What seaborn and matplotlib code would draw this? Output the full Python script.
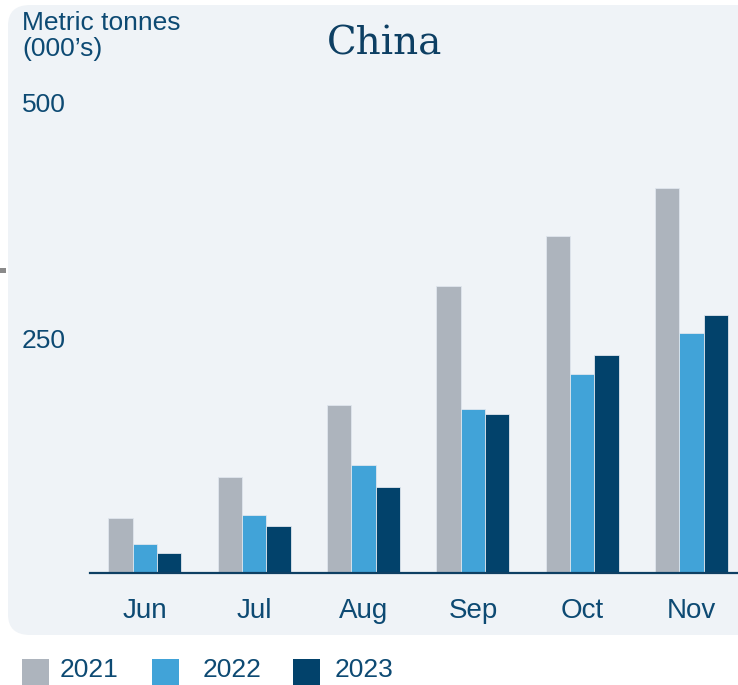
import matplotlib
matplotlib.use("Agg")
import matplotlib.pyplot as plt
from matplotlib.patches import FancyBboxPatch, Rectangle
import seaborn as sns
import pandas as pd

months = ["Jun", "Jul", "Aug", "Sep", "Oct", "Nov"]
years = ["2021", "2022", "2023"]
v2021 = [58.5, 102, 179, 305, 359, 410]
v2022 = [30.5, 62, 115, 174, 212, 255]
v2023 = [21, 50, 92, 169, 231.5, 274.5]
yticks = [250, 500]

colors = ["#adb4bd", "#41a3d8", "#02426b"]
txt = "#0d4a73"

rows = []
for y, vals in zip(years, [v2021, v2022, v2023]):
    for m, v in zip(months, vals):
        rows.append({"month": m, "year": y, "value": v})
df = pd.DataFrame(rows)

sns.set_theme(style="white")
plt.rcParams["font.family"] = ["Liberation Sans", "DejaVu Sans"]

W, H = 738, 685
fig = plt.figure(figsize=(W / 100, H / 100), dpi=100, facecolor="white")

# background panel
panel = FancyBboxPatch((8 / W, 1 - 635 / H), (W + 20 - 8) / W, (635 - 5) / H,
                       boxstyle="round,pad=0,rounding_size=0.03",
                       transform=fig.transFigure, facecolor="#eff3f7",
                       edgecolor="none", zorder=-5)
fig.patches.append(panel)
# small dash on left
fig.patches.append(Rectangle((0, 1 - 273 / H), 6 / W, 5 / H, transform=fig.transFigure,
                             facecolor="#8a8a8a", edgecolor="none", zorder=-5))

ax_left, ax_right = 90, 738
ax_bottom, ax_top = 573, 103
ax = fig.add_axes([ax_left / W, 1 - ax_bottom / H, (ax_right - ax_left) / W,
                   (ax_bottom - ax_top) / H])
ax.set_zorder(2)
ax.set_facecolor("none")

sns.barplot(data=df, x="month", y="value", hue="year", palette=colors,
            width=0.668, gap=0, ax=ax, edgecolor="#dfe6ee", linewidth=0.6,
            saturation=1)
ax.legend_.remove()

ax.set_xlim(-0.503, 5.425)
ax.set_ylim(0, 500)
ax.set_yticks(yticks)
ax.set_yticklabels([str(t) for t in yticks])
ax.set_xlabel("")
ax.set_ylabel("")
for s in ["top", "right", "left"]:
    ax.spines[s].set_visible(False)
ax.spines["bottom"].set_color("#0d3f63")
ax.spines["bottom"].set_linewidth(1.6)
ax.tick_params(axis="x", length=0, pad=18, labelsize=20, labelcolor=txt)
ax.tick_params(axis="y", length=0, pad=49, labelsize=19, labelcolor=txt)
for lbl in ax.get_yticklabels():
    lbl.set_horizontalalignment("left")

fig.text(22 / W, 1 - 11 / H, "Metric tonnes\n(000\u2019s)", ha="left", va="top",
         fontsize=19, color=txt, linespacing=1.1)
fig.text(385 / W, 1 - 44 / H, "China", ha="center", va="center",
         fontsize=28, color="#0d3f63", family=["DejaVu Serif"])

# legend
lx = [22, 152, 293]
tx = [60, 203, 335]
for x0, t0, c, y in zip(lx, tx, colors, years):
    fig.patches.append(Rectangle((x0 / W, 1 - 686 / H), 27 / W, 27 / H,
                                 transform=fig.transFigure, facecolor=c,
                                 edgecolor="none"))
    fig.text(t0 / W, 1 - 670 / H, y, ha="left", va="center", fontsize=19, color=txt)

fig.savefig("out.png", dpi=100, facecolor="white")
